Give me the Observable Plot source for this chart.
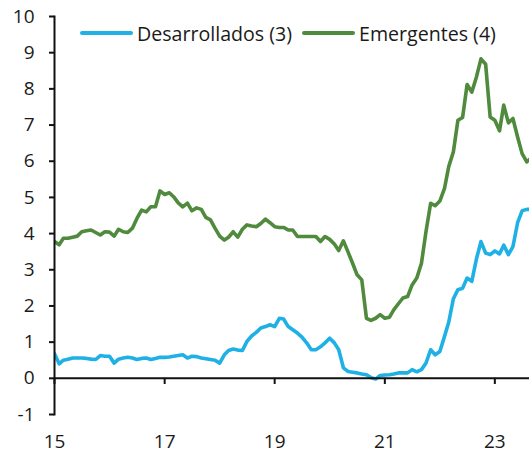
<!DOCTYPE html>
<html><head><meta charset="utf-8">
<script src="https://cdn.jsdelivr.net/npm/d3@7"></script>
<script src="https://cdn.jsdelivr.net/npm/@observablehq/plot@0.6"></script>
<style>
body{margin:0;background:#fff;}
#wrap{position:relative;width:529px;height:456px;font-family:"Open Sans",sans-serif;}
.item{position:absolute;top:20px;height:26px;display:flex;align-items:center;font-size:19.6px;color:#1a1a1a;white-space:nowrap;}
.sw{width:53px;height:4px;margin-right:4px;border-radius:2px;}
</style></head><body><div id="wrap"></div>
<script>
const seriesNames = ["Desarrollados (3)", "Emergentes (4)"];
const seriesColors = ["#1fb0e6", "#4f8a3d"];
const startYear = 2015;
const desarrollados = [0.68,0.40,0.50,0.53,0.56,0.56,0.56,0.55,0.53,0.52,0.63,0.61,0.61,0.42,0.53,0.56,0.58,0.56,0.52,0.55,0.56,0.52,0.55,0.58,0.58,0.59,0.61,0.63,0.65,0.56,0.61,0.60,0.56,0.54,0.52,0.50,0.42,0.65,0.77,0.81,0.78,0.77,1.02,1.17,1.27,1.39,1.43,1.48,1.43,1.66,1.64,1.43,1.34,1.25,1.14,0.98,0.79,0.79,0.87,0.98,1.11,0.98,0.79,0.29,0.19,0.17,0.15,0.12,0.10,0.02,-0.02,0.08,0.09,0.10,0.12,0.15,0.15,0.15,0.24,0.18,0.24,0.42,0.79,0.65,0.74,1.16,1.55,2.20,2.45,2.49,2.77,2.68,3.30,3.78,3.46,3.42,3.52,3.44,3.68,3.42,3.64,4.30,4.63,4.67,4.67];
const emergentes = [3.78,3.69,3.87,3.87,3.90,3.93,4.05,4.08,4.10,4.03,3.96,4.05,4.04,3.93,4.12,4.05,4.03,4.15,4.42,4.65,4.60,4.74,4.74,5.18,5.08,5.13,5.02,4.85,4.74,4.84,4.63,4.71,4.67,4.45,4.38,4.15,3.93,3.82,3.90,4.05,3.90,4.12,4.24,4.21,4.19,4.28,4.40,4.30,4.19,4.17,4.17,4.10,4.10,3.92,3.92,3.92,3.92,3.92,3.78,3.92,3.84,3.71,3.53,3.80,3.50,3.18,2.86,2.72,1.66,1.60,1.66,1.76,1.66,1.69,1.89,2.06,2.22,2.26,2.58,2.77,3.18,4.05,4.84,4.77,4.90,5.25,5.85,6.26,7.13,7.21,8.12,7.91,8.33,8.83,8.68,7.22,7.13,6.84,7.55,7.06,7.18,6.67,6.21,5.98,6.10];
const yTicks = [-1,0,1,2,3,4,5,6,7,8,9,10];
const xTickYears = [2015,2017,2019,2021,2023];

const rows = [];
[desarrollados, emergentes].forEach((arr, s) => arr.forEach((v, i) =>
  rows.push({date: new Date(startYear, i, 1), value: v, series: seriesNames[s]})));
const xTicks = xTickYears.map(y => new Date(y, 0, 1));

const chart = Plot.plot({
  width: 529, height: 456,
  marginLeft: 54, marginRight: 0, marginTop: 16, marginBottom: 42,
  style: {fontFamily: "'Open Sans', sans-serif", fontSize: "19px", color: "#1a1a1a", background: "#fff"},
  x: {type: "time", domain: [new Date(2015, 0, 1), new Date(2023, 7, 19)], label: null},
  y: {domain: [-1, 10], label: null},
  color: {domain: seriesNames, range: seriesColors},
  marks: [
    Plot.lineY(rows, {x: "date", y: "value", stroke: "series", strokeWidth: 3.6, clip: true, strokeLinejoin: "round"}),
    Plot.ruleY([0], {stroke: "#111", strokeWidth: 2}),
    Plot.ruleX(xTicks, {x: d => d, y1: 0, y2: -0.17, stroke: "#111", strokeWidth: 2}),
    Plot.frame({anchor: "left", stroke: "#111", strokeWidth: 2}),
    Plot.axisY({ticks: yTicks, tickSize: 5, tickPadding: 15, tickFormat: d => String(d), stroke: "#111", strokeWidth: 2, fill: "#1a1a1a", label: null}),
    Plot.axisX({ticks: xTicks, tickSize: 0, tickPadding: 20, tickFormat: d => String(d.getFullYear() % 100), fill: "#1a1a1a", label: null})
  ]
});
const wrap = document.getElementById("wrap");
wrap.appendChild(chart);
const legendLeft = [80, 302];
seriesNames.forEach((name, i) => {
  const it = document.createElement("div");
  it.className = "item";
  it.style.left = legendLeft[i] + "px";
  const sw = document.createElement("div");
  sw.className = "sw";
  sw.style.background = seriesColors[i];
  it.appendChild(sw);
  it.appendChild(document.createTextNode(name));
  wrap.appendChild(it);
});
</script></body></html>
